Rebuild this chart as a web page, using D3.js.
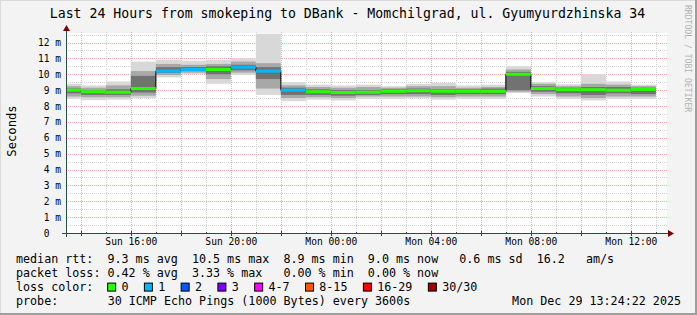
<!DOCTYPE html>
<html><head><meta charset="utf-8">
<script src="https://cdn.jsdelivr.net/npm/d3@7"></script>
<style>
html,body{margin:0;padding:0;background:#f3f3f3;}
svg{display:block;}
text{font-family:"DejaVu Sans Mono",monospace;white-space:pre;fill:#000;}
</style>
</head><body><svg id="c" width="697" height="315"></svg>
<script>
// ---- data (values in ms) ----
const binStarts = ["2025-12-28T13:00","2025-12-28T14:00","2025-12-28T15:00","2025-12-28T16:00","2025-12-28T17:00","2025-12-28T18:00",
  "2025-12-28T19:00","2025-12-28T20:00","2025-12-28T21:00","2025-12-28T22:00","2025-12-28T23:00","2025-12-29T00:00",
  "2025-12-29T01:00","2025-12-29T02:00","2025-12-29T03:00","2025-12-29T04:00","2025-12-29T05:00","2025-12-29T06:00",
  "2025-12-29T07:00","2025-12-29T08:00","2025-12-29T09:00","2025-12-29T10:00","2025-12-29T11:00","2025-12-29T12:00"];
const pingMin = [8.45,8.37,8.40,8.50,9.80,10.00,9.40,9.95,8.70,8.30,8.40,8.35,8.45,8.45,8.50,8.40,8.45,8.45,8.82,8.60,8.45,8.35,8.45,8.45];
const pingP10 = [8.60,8.55,8.55,8.65,9.95,10.10,9.70,10.10,9.10,8.50,8.55,8.50,8.60,8.60,8.60,8.55,8.60,8.60,8.90,8.75,8.60,8.50,8.60,8.60];
const pingP25 = [8.80,8.70,8.70,8.85,10.10,10.20,10.00,10.25,9.70,8.70,8.70,8.65,8.70,8.75,8.75,8.70,8.75,8.75,9.00,8.90,8.80,8.70,8.80,8.75];
const median  = [9.00,8.90,8.87,9.10,10.20,10.30,10.30,10.45,10.20,9.00,8.90,8.85,8.87,8.93,8.96,8.93,8.93,8.93,10.00,9.10,9.03,9.03,9.00,9.05];
const pingP75 = [9.10,9.00,9.05,9.90,10.45,10.45,10.50,10.60,10.45,9.15,9.05,9.00,9.00,9.05,9.10,9.05,9.05,9.10,10.15,9.25,9.15,9.20,9.20,9.15];
const pingP90 = [9.25,9.15,9.30,10.20,10.65,10.60,10.65,10.80,10.70,9.30,9.20,9.15,9.20,9.15,9.25,9.25,9.15,9.20,10.30,9.40,9.25,9.40,9.35,9.25];
const pingMax = [9.40,9.30,9.55,10.80,10.90,10.85,10.90,11.00,12.55,9.50,9.35,9.30,9.35,9.25,9.40,9.45,9.30,9.35,10.50,9.50,9.37,10.00,9.55,9.35];
const lostPings = [0,0,0,0,1,1,0,1,1,1,0,0,0,0,0,0,0,0,0,0,0,0,0,0];

const lossLabels = ["0","1","2","3","4-7","8-15","16-29","30/30"];
const lossColors = ["#26ff00","#00b8ff","#0059ff","#7e00ff","#ff00ff","#ff5500","#ff0000","#a10000"];
const lossUpper  = [0,1,2,3,7,15,29,30];

const yTicks = [0,1,2,3,4,5,6,7,8,9,10,11,12];
const title = "Last 24 Hours from smokeping to DBank - Momchilgrad, ul. Gyumyurdzhinska 34";
const legendLines = [
  "median rtt:  9.3 ms avg  10.5 ms max  8.9 ms min  9.0 ms now   0.6 ms sd  16.2   am/s",
  "packet loss: 0.42 % avg  3.33 % max   0.00 % min  0.00 % now"
];
const lossLegendTitle = "loss color:";
const probeLabel = "probe:";
const probeText = "30 ICMP Echo Pings (1000 Bytes) every 3600s";
const stampText = "Mon Dec 29 13:24:22 2025";
const timeStart = "2025-12-28T13:24:22", timeEnd = "2025-12-29T13:24:22";

// ---- drawing ----
const svg = d3.select("#c");
const W = 697, H = 315, L = 66, R = 666, T = 33, B = 233;
const parse = d3.utcParse("%Y-%m-%dT%H:%M:%S");
const parseH = d3.utcParse("%Y-%m-%dT%H:%M");
const t0 = parse(timeStart), t1 = parse(timeEnd);
const x = d3.scaleUtc().domain([t0, t1]).range([L, R]);
const y = d3.scaleLinear().domain([0, 12.6]).range([B, T]);

svg.append("rect").attr("width", W).attr("height", H).attr("fill", "#f3f3f3");
svg.append("rect").attr("x",0).attr("y",0).attr("width",W).attr("height",1).attr("fill","#dadada");
svg.append("rect").attr("x",0).attr("y",0).attr("width",1).attr("height",H).attr("fill","#dadada");
svg.append("rect").attr("x",0).attr("y",H-2).attr("width",W).attr("height",2).attr("fill","#9e9e9e");
svg.append("rect").attr("x",W-2).attr("y",0).attr("width",2).attr("height",H).attr("fill","#9e9e9e");

svg.append("rect").attr("x", L).attr("y", T).attr("width", R - L + 1).attr("height", B - T).attr("fill", "#fff");

// grid
const g = svg.append("g");
const halfTicks = d3.range(1, 26).map(d => d / 2).filter(v => v % 1 !== 0);
g.selectAll(".hmin").data(halfTicks).join("line")
  .attr("x1", L).attr("x2", R + 2).attr("y1", d => Math.round(y(d)) + 0.5).attr("y2", d => Math.round(y(d)) + 0.5)
  .attr("stroke", "#d4d4d4").attr("stroke-dasharray", "1,1");
const hours = x.ticks(d3.utcHour.every(1));
g.selectAll(".vmin").data(hours.filter(h => h.getUTCHours() % 2 === 1)).join("line")
  .attr("x1", d => Math.round(x(d)) + 0.5).attr("x2", d => Math.round(x(d)) + 0.5).attr("y1", T - 1).attr("y2", B)
  .attr("stroke", "#d4d4d4").attr("stroke-dasharray", "1,1");
g.selectAll(".hmaj").data(yTicks.filter(v => v > 0)).join("line")
  .attr("x1", L).attr("x2", R + 2).attr("y1", d => Math.round(y(d)) + 0.5).attr("y2", d => Math.round(y(d)) + 0.5)
  .attr("stroke", "#f2aaaa").attr("stroke-dasharray", "1,1");
g.selectAll(".vmaj").data(hours.filter(h => h.getUTCHours() % 2 === 0)).join("line")
  .attr("x1", d => Math.round(x(d)) + 0.5).attr("x2", d => Math.round(x(d)) + 0.5).attr("y1", T - 1).attr("y2", B)
  .attr("stroke", "#f2aaaa").attr("stroke-dasharray", "1,1");

// bins
const bins = binStarts.map((s, i) => {
  const a = parseH(s);
  const b = d3.utcHour.offset(a, 1);
  return { x0: x(a < t0 ? t0 : a), x1: x(b), i };
});
const layers = [[pingMin, pingMax, "#d8d8d8"], [pingP10, pingP90, "#a8a8a8"], [pingP25, pingP75, "#727272"]];
const smoke = svg.append("g");
layers.forEach(([lo, hi, col]) => {
  smoke.selectAll(null).data(bins).join("rect")
    .attr("x", d => d.x0).attr("width", d => d.x1 - d.x0)
    .attr("y", d => y(hi[d.i])).attr("height", d => y(lo[d.i]) - y(hi[d.i]))
    .attr("fill", col);
});
// median step line
const stepPts = bins.map(d => [d.x0, y(median[d.i])]);
stepPts.push([bins[bins.length - 1].x1, y(median[median.length - 1])]);
svg.append("path").attr("d", d3.line().curve(d3.curveStepAfter)(stepPts))
  .attr("fill", "none").attr("stroke", "#000").attr("stroke-width", 1);
// loss-coloured median band
function lossIdx(n) { return lossUpper.findIndex(u => n <= u); }
svg.append("g").selectAll("rect").data(bins).join("rect")
  .attr("x", d => d.x0).attr("width", d => d.x1 - d.x0)
  .attr("y", d => y(median[d.i]) - 1.5).attr("height", 3)
  .attr("fill", d => lossColors[lossIdx(lostPings[d.i])]);

// axes
const yAxis = d3.axisLeft(y).tickValues(yTicks).tickSize(0).tickPadding(5.5)
  .tickFormat(v => v === 0 ? "0  " : v + " m");
const ya = svg.append("g").attr("transform", `translate(${L + 0.5},0)`).call(yAxis);
ya.select(".domain").remove();
ya.selectAll("text").style("font-size", "9.6px").attr("fill", "#000");

const xAxis = d3.axisBottom(x).ticks(d3.utcHour.every(4)).tickSize(0).tickPadding(4.8)
  .tickFormat(d3.utcFormat("%a %H:%M"));
const xa = svg.append("g").attr("transform", `translate(0,${B})`).call(xAxis);
xa.select(".domain").remove();
xa.selectAll("text").style("font-size", "9.6px").attr("fill", "#000");

// axis ticks
svg.append("g").selectAll("line").data(hours).join("line")
  .attr("x1", d => Math.round(x(d)) + 0.5).attr("x2", d => Math.round(x(d)) + 0.5)
  .attr("y1", d => d.getUTCHours() % 2 === 0 ? B - 2 : B - 1).attr("y2", d => d.getUTCHours() % 2 === 0 ? B + 3 : B + 1)
  .attr("stroke", "#2c4d43");
// axis lines
svg.append("line").attr("x1", L - 4).attr("x2", R + 4).attr("y1", B + 0.5).attr("y2", B + 0.5).attr("stroke", "#2c4d43");
svg.append("line").attr("x1", L + 0.5).attr("x2", L + 0.5).attr("y1", B + 4).attr("y2", T - 3).attr("stroke", "#2c4d43");
svg.append("path").attr("d", `M${L - 3},${T - 2} L${L + 4},${T - 2} L${L + 0.5},${T - 8} Z`).attr("fill", "#7f0000");
svg.append("path").attr("d", `M${R + 2},${B - 3} L${R + 2},${B + 4} L${R + 8},${B + 0.5} Z`).attr("fill", "#7f0000");

// title & labels
svg.append("text").attr("x", 347.5).attr("y", 18.3).attr("text-anchor", "middle").style("font-size", "13.2px").text(title);
svg.append("text").attr("transform", "translate(15.5,131) rotate(-90)").attr("text-anchor", "middle")
  .style("font-size", "12.2px").text("Seconds");
svg.append("text").attr("transform", "translate(685,5) rotate(90)").attr("text-anchor", "start")
  .style("font-size", "8.1px").style("fill", "#b2b2b2").text("RRDTOOL / TOBI OETIKER");

// legend
const CW = 7.05, LX = 16, LF = "11.7px";
const base = [262.8, 276.7, 290.6, 304.5];
legendLines.forEach((s, i) => {
  svg.append("text").attr("x", LX).attr("y", base[i]).style("font-size", LF).text(s);
});
svg.append("text").attr("x", LX).attr("y", base[2]).style("font-size", LF).text(lossLegendTitle);
let cx = LX + 13 * CW - 0.5;
const lg = svg.append("g");
lossLabels.forEach((lab, i) => {
  lg.append("rect").attr("x", cx + 0.5).attr("y", base[2] - 7.5).attr("width", 8).attr("height", 8)
    .attr("fill", lossColors[i]).attr("stroke", "#000").attr("stroke-width", 1);
  lg.append("text").attr("x", cx + 14.3).attr("y", base[2]).style("font-size", LF).text(lab);
  cx = cx + 14.3 + lab.length * CW + 15.4;
});
svg.append("text").attr("x", LX).attr("y", base[3]).style("font-size", LF).text(probeLabel);
svg.append("text").attr("x", LX + 13 * CW).attr("y", base[3]).style("font-size", LF).text(probeText);
svg.append("text").attr("x", 681).attr("y", base[3]).attr("text-anchor", "end").style("font-size", LF).text(stampText);
</script>
</body></html>
